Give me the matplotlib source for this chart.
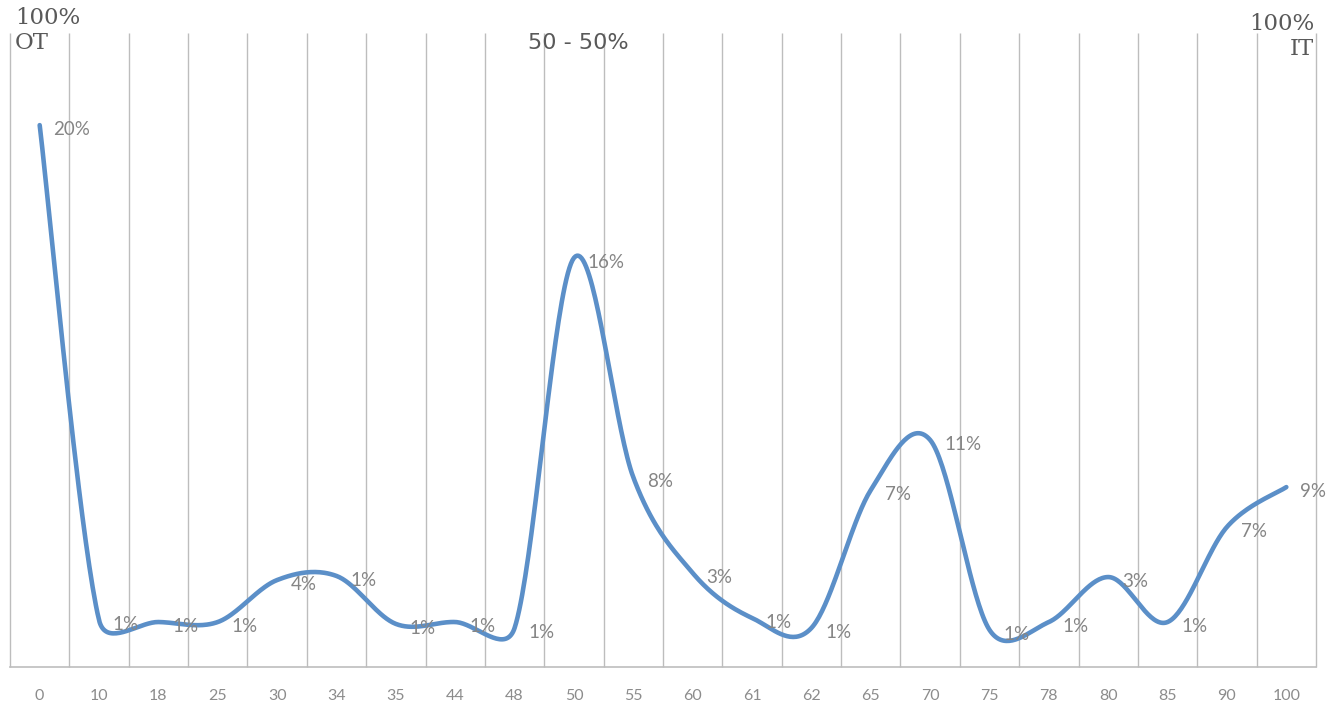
import numpy as np
import matplotlib
matplotlib.use("Agg")
import matplotlib.pyplot as plt


# カテゴリ（OT比率）
categories = ["0", "10", "18", "25", "30", "34", "35", "44", "48", "50", "55",
              "60", "61", "62", "65", "70", "75", "78", "80", "85", "90", "100"]

# 折れ線の値
trend = [20.0, 1.73, 1.66, 1.66, 3.21, 3.36, 1.59, 1.66, 1.44, 15.1, 7.0,
         3.47, 1.81, 1.44, 6.53, 8.38, 1.37, 1.66, 3.32, 1.66, 5.17, 6.64]

# データラベル（セルの値）
shares = [20, 1, 1, 1, 4, 1, 1, 1, 1, 16, 8, 3, 1, 1, 7, 11, 1, 1, 3, 1, 7, 9]


W, H = 1333, 709
LINE_COLOR = "#5b8fc8"
GRID_COLOR = "#bdbdbd"
LABEL_FONT = ["Lato", "DejaVu Sans"]


def main():

    fig = plt.figure(figsize=(W / 100, H / 100), dpi=100)
    ax = fig.add_axes([10 / W, 42 / H, 1306 / W, 634 / H])

    DrawGraph(ax)
    DrawHeaders(fig)

    fig.savefig("out.png", dpi=100)

    return



def Smooth(ax, xs, ys, n=40):
    """
    Bezier smoothing in screen space (like a spreadsheet smoothed line)

    Args:
        ax  (Axes): target axes, limits already fixed
        xs  (list): x positions
        ys  (list): y values
    """

    pts = ax.transData.transform(np.column_stack([xs, ys]))
    count = len(pts)
    curve = []
    t = np.linspace(0, 1, n)[:, None]

    for i in range(count - 1):
        p0 = pts[i - 1] if i > 0 else pts[i]
        p1, p2 = pts[i], pts[i + 1]
        p3 = pts[i + 2] if i + 2 < count else pts[i + 1]

        seg = np.linalg.norm(p2 - p1)
        t1 = (p2 - p0) / 6
        t2 = (p3 - p1) / 6

        # 制御点が離れすぎないように制限
        cap = 0.5 * seg
        if np.linalg.norm(t1) > cap:
            t1 = t1 * cap / np.linalg.norm(t1)
        if np.linalg.norm(t2) > cap:
            t2 = t2 * cap / np.linalg.norm(t2)

        c1, c2 = p1 + t1, p2 - t2
        b = ((1 - t) ** 3) * p1 + 3 * ((1 - t) ** 2) * t * c1 \
            + 3 * (1 - t) * (t ** 2) * c2 + (t ** 3) * p2
        curve.append(b if i == 0 else b[1:])

    curve = np.vstack(curve)
    return ax.transData.inverted().transform(curve)



def DrawGraph(ax):
    """
    Draw line, grid and labels
    """

    x = np.arange(len(categories))
    ytop = 23.4

    ax.set_xlim(-0.5, len(categories) - 0.5)
    ax.set_ylim(0, ytop)

    for s in ax.spines.values():
        s.set_visible(False)
    ax.set_yticks([])

    # カテゴリの境目に縦線
    ax.vlines(np.arange(-0.5, len(categories)), 0, ytop,
              color=GRID_COLOR, lw=1.0, clip_on=False, zorder=1)
    ax.axhline(0, color=GRID_COLOR, lw=1.2, clip_on=False, zorder=1)

    ax.set_xticks(x)
    ax.set_xticklabels(categories, fontsize=11.5, color="#8c8c8c",
                       family=LABEL_FONT)
    ax.tick_params(axis="x", length=0, pad=16)

    curve = Smooth(ax, x, trend)
    ax.plot(curve[:, 0], curve[:, 1], color=LINE_COLOR, lw=3.3,
            solid_capstyle="round", zorder=3)

    for xi, yi, s in zip(x, trend, shares):
        ax.annotate("%d%%" % s, (xi, yi), xytext=(10, -3),
                    textcoords="offset points", ha="left", va="center",
                    fontsize=13.5, color="#858585", family=LABEL_FONT,
                    annotation_clip=False, zorder=4)

    return



def DrawHeaders(fig):
    """
    Titles at the top of the chart
    """

    dark = "#595959"

    fig.text(15 / W, 1 - 7 / H, "100%\nOT", ha="left", va="top",
             fontsize=16.5, color=dark, family="DejaVu Serif",
             linespacing=1.15)
    fig.text(1314 / W, 1 - 13 / H, "100%\nIT", ha="right", va="top",
             fontsize=16.5, color=dark, family="DejaVu Serif",
             linespacing=1.2, multialignment="right")
    fig.text(578 / W, 1 - 33 / H, "50 - 50%", ha="center", va="top",
             fontsize=16, color=dark, family="DejaVu Sans")

    return




if __name__ == "__main__":
    main()
